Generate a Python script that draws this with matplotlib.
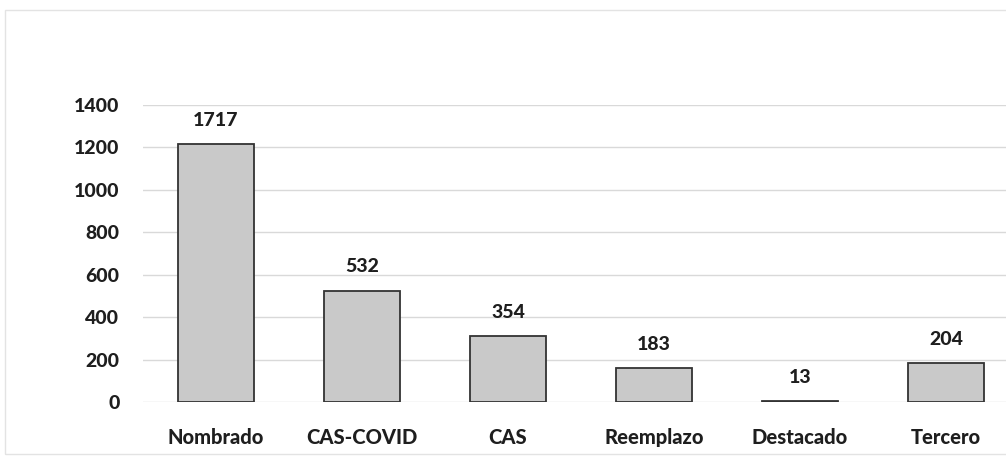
import matplotlib
matplotlib.use("Agg")
import matplotlib.pyplot as plt
from matplotlib.patches import Rectangle

categories = ["Nombrado", "CAS-COVID", "CAS", "Reemplazo", "Destacado", "Tercero"]
label_values = [1717, 532, 354, 183, 13, 204]
# bar heights as drawn in the picture (the scanned chart's bars do not match their labels)
bar_heights = [1215, 525, 312, 158, 4, 182]
yticks = [0, 200, 400, 600, 800, 1000, 1200, 1400]

plt.rcParams['font.family'] = ['Lato', 'DejaVu Sans']

W, H = 1006, 459
fig = plt.figure(figsize=(W / 100, H / 100), dpi=100)
fig.patch.set_facecolor("white")

left, right, bottom, top = 143, 1006, 402, 105
ax = fig.add_axes([left / W, 1 - bottom / H, (right - left) / W, (bottom - top) / H])

x = list(range(len(categories)))
ax.bar(x, bar_heights, width=0.52, color="#c9c9c9", edgecolor="#333333", linewidth=1.3, zorder=3)

for xi, h, v in zip(x, bar_heights, label_values):
    ax.annotate(str(v), (xi, h), xytext=(0, 11), textcoords="offset points",
                ha="center", va="bottom", fontsize=14, fontweight="black", color="#1e1e1e")

ax.set_xlim(-0.5, 5.41)
ax.set_ylim(0, 1400)
ax.set_yticks(yticks)
ax.set_xticks(x)
ax.set_xticklabels(categories)
ax.grid(axis="y", color="#d9d9d9", linewidth=1.0, zorder=0)
for s in ax.spines.values():
    s.set_visible(False)
ax.tick_params(axis="both", length=0, colors="#1e1e1e")
ax.tick_params(axis="x", pad=19, labelsize=14.5)
ax.tick_params(axis="y", pad=17, labelsize=14)
for lab in ax.get_xticklabels() + ax.get_yticklabels():
    lab.set_fontweight("black")

# faint frame of the chart area
fig.add_artist(Rectangle((5 / W, 0.01), 1.2, 1 - 10 / H - 0.01, transform=fig.transFigure,
                         fill=False, edgecolor="#e3e3e3", linewidth=1.0))

fig.savefig("out.png", dpi=100, facecolor="white")
